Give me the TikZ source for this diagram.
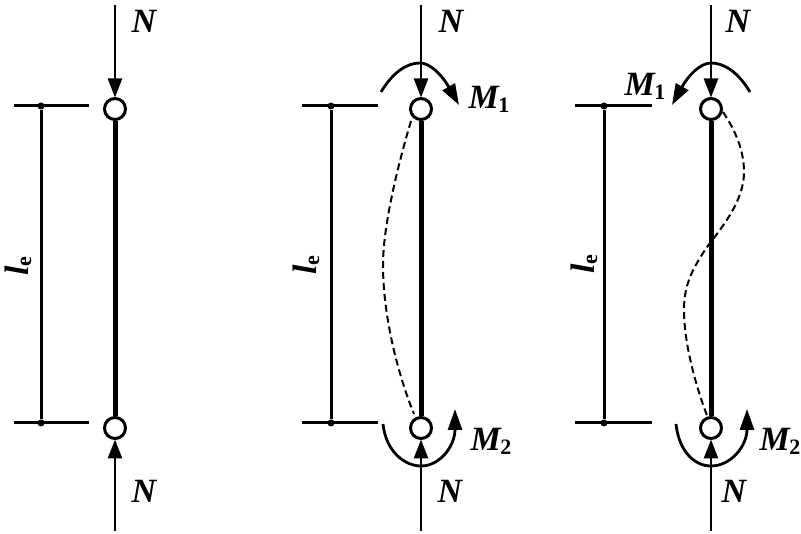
\documentclass[tikz,border=0pt]{standalone}
\usepackage{fontspec}
\setmainfont{Liberation Serif}
\usetikzlibrary{arrows.meta}
\tikzset{
  x=1pt,y=-1pt,
  hinge/.style={circle,draw=black,line width=3pt,fill=white,minimum size=21pt,inner sep=0pt},
  column/.style={line width=5pt},
  force/.style={line width=2.6pt,-{Triangle[length=19pt,width=14pt]},shorten >=-0.5pt},
  moment/.style={line width=2.8pt,-{Triangle[length=21pt,width=14pt]}},
  dim/.style={line width=3pt},
  defl/.style={line width=2pt,dash pattern=on 7pt off 4pt},
  tick/.style={circle,fill=black,inner sep=0pt,minimum size=7pt},
  lab/.style={font=\fontsize{34}{36}\selectfont\bfseries\itshape,inner sep=0pt},
  lee/.style={font=\fontsize{34}{36}\selectfont\bfseries\itshape,inner sep=0pt,rotate=90},
}
\newcommand{\mysub}[2]{#1\kern-0.5pt\raisebox{-4pt}{\fontsize{22}{24}\selectfont\bfseries\upshape #2}}
\newcommand{\leesub}{l\kern-1pt\raisebox{-3pt}{\fontsize{22}{24}\selectfont\bfseries\upshape e}}
\begin{document}
\begin{tikzpicture}
\useasboundingbox (0,0) rectangle (801,534);
% ---- column 1
\node[hinge] (a1) at (115,109) {};
\node[hinge] (a2) at (115,428) {};
\coordinate (at) at (115,5);
\coordinate (ab) at (115,531);
\draw[column] (a1) -- (a2);
\draw[force] (at) -- (a1);
\draw[force] (ab) -- (a2);
\node[lab] (an1) at (144,21) {N};
\node[lab] (an2) at (144,491) {N};
\coordinate (ad1l) at (14,106); \coordinate (ad1r) at (89,106);
\coordinate (ad2l) at (14,423); \coordinate (ad2r) at (89,423);
\node[tick] (at1) at (41,106) {};
\node[tick] (at2) at (41,423) {};
\draw[dim] (ad1l) -- (ad1r);
\draw[dim] (ad2l) -- (ad2r);
\draw[dim] (at1) -- (at2);
\node[lee] (al) at (18,266) {\leesub};
% ---- column 2
\node[hinge] (b1) at (421,109) {};
\node[hinge] (b2) at (421,428) {};
\coordinate (bt) at (421,5);
\coordinate (bb) at (421,531);
\draw[column] (b1) -- (b2);
\draw[force] (bt) -- (b1);
\draw[force] (bb) -- (b2);
\node[lab] (bn1) at (451,21) {N};
\node[lab] (bn2) at (450,491) {N};
\coordinate (bd1l) at (302,106); \coordinate (bd1r) at (378,106);
\coordinate (bd2l) at (302,423); \coordinate (bd2r) at (378,423);
\node[tick] (bt1) at (331,106) {};
\node[tick] (bt2) at (331,423) {};
\draw[dim] (bd1l) -- (bd1r);
\draw[dim] (bd2l) -- (bd2r);
\draw[dim] (bt1) -- (bt2);
\node[lee] (bl) at (306,265) {\leesub};
\coordinate (bm1s) at (381,92); \coordinate (bm1e) at (459,105);
\coordinate (bm2s) at (383,424); \coordinate (bm2e) at (455,409);
\draw[moment] (bm1s) .. controls (393,72) and (407,63) .. (420,63) .. controls (430,63) and (442,75) .. (bm1e);
\draw[moment] (bm2s) .. controls (386,452) and (405,466) .. (421,466) .. controls (440,466) and (455,446) .. (bm2e);
\draw[defl] (411,121) coordinate (bd0) .. controls (395,175) and (383,230) .. (383,265) .. controls (383,320) and (400,380) .. (414,414) coordinate (bd3);
\node[lab] (bm1) at (489,99) {\mysub{M}{1}};
\node[lab] (bm2) at (491,441) {\mysub{M}{2}};
% ---- column 3
\node[hinge] (c1) at (711,109) {};
\node[hinge] (c2) at (711,428) {};
\coordinate (ct) at (711,5);
\coordinate (cb) at (711,531);
\draw[column] (c1) -- (c2);
\draw[force] (ct) -- (c1);
\draw[force] (cb) -- (c2);
\node[lab] (cn1) at (738,21) {N};
\node[lab] (cn2) at (734,491) {N};
\coordinate (cd1l) at (575,106); \coordinate (cd1r) at (652,106);
\coordinate (cd2l) at (575,423); \coordinate (cd2r) at (652,423);
\node[tick] (ct1) at (604,106) {};
\node[tick] (ct2) at (604,423) {};
\draw[dim] (cd1l) -- (cd1r);
\draw[dim] (cd2l) -- (cd2r);
\draw[dim] (ct1) -- (ct2);
\node[lee] (cl) at (584,264) {\leesub};
\coordinate (cm1s) at (750,92); \coordinate (cm1e) at (672,105);
\coordinate (cm2s) at (676,424); \coordinate (cm2e) at (747,409);
\draw[moment] (cm1s) .. controls (738,72) and (724,63) .. (711,63) .. controls (700,63) and (688,76) .. (cm1e);
\draw[moment] (cm2s) .. controls (679,452) and (695,466) .. (711,466) .. controls (731,466) and (747,446) .. (cm2e);
\draw[defl] (723,112) coordinate (cd0) .. controls (735,130) and (744,150) .. (744,172) .. controls (744,205) and (715,235) .. (705,250) .. controls (692,270) and (684,285) .. (684,310) .. controls (684,345) and (697,390) .. (708,418) coordinate (cd3);
\node[lab] (cm1) at (645,86) {\mysub{M}{1}};
\node[lab] (cm2) at (780,441) {\mysub{M}{2}};
\end{tikzpicture}
\end{document}
